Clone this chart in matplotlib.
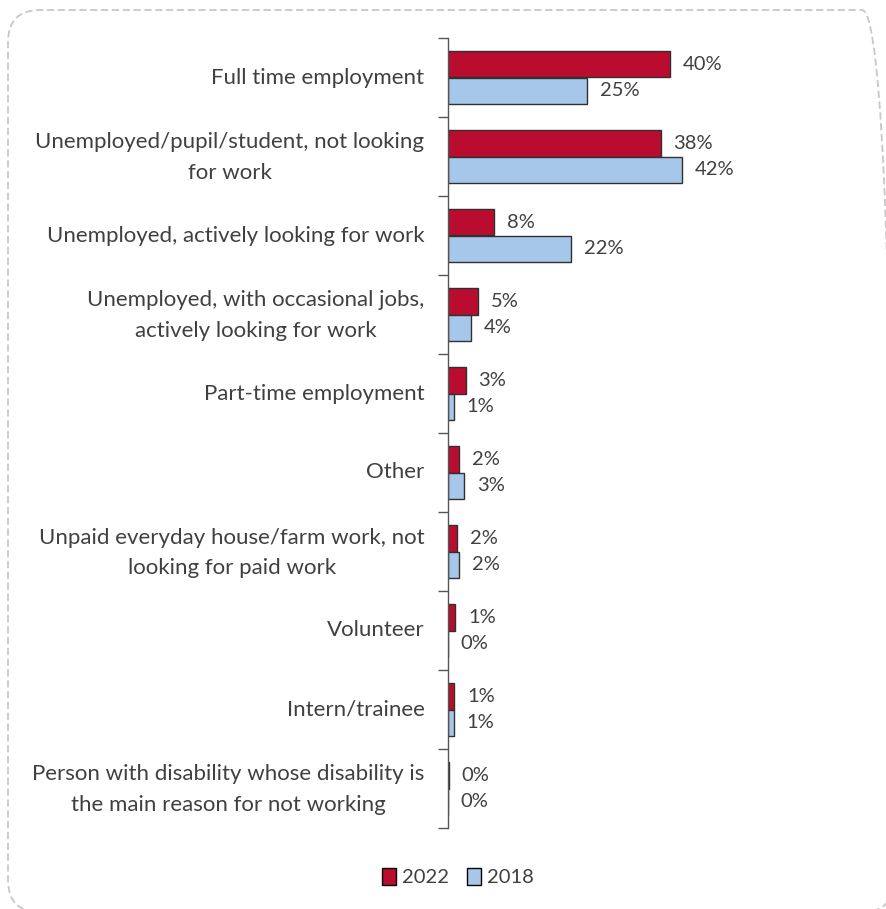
import matplotlib
matplotlib.use("Agg")
import matplotlib.pyplot as plt
from matplotlib.patches import FancyBboxPatch, Patch
from matplotlib.transforms import IdentityTransform, ScaledTranslation
import numpy as np

categories = [
    "Full time employment",
    "Unemployed/pupil/student, not looking\nfor work",
    "Unemployed, actively looking for work",
    "Unemployed, with occasional jobs,\nactively looking for work",
    "Part-time employment",
    "Other",
    "Unpaid everyday house/farm work, not\nlooking for paid work",
    "Volunteer",
    "Intern/trainee",
    "Person with disability whose disability is\nthe main reason for not working",
]
values_2022 = [40.0, 38.3, 8.3, 5.4, 3.2, 2.0, 1.7, 1.3, 1.1, 0.1]
values_2018 = [25.0, 42.1, 22.2, 4.1, 1.0, 2.9, 2.0, 0.0, 1.0, 0.0]
series_names = ["2022", "2018"]

red = "#BA0C2F"
blue = "#A7C7EA"
text_col = "#404040"
edge_col = "#303030"

plt.rcParams["font.family"] = ["Lato", "DejaVu Sans"]

W, H = 886, 909
fig = plt.figure(figsize=(W / 100, H / 100), dpi=100)

# rounded dashed frame, placed in device pixels (origin bottom-left)
frame = FancyBboxPatch((8, H - 912), 886, 902,
                       boxstyle="round,pad=0,rounding_size=32",
                       transform=IdentityTransform(),
                       fill=False, edgecolor="#c8c8c8", linewidth=1.3,
                       linestyle=(0, (4, 2)), clip_on=False)
fig.patches.append(frame)

left, right_px = 448, 809
top, bottom = 38, 828
ax = fig.add_axes([left / W, 1 - bottom / H, (right_px - left) / W, (bottom - top) / H])

n = len(categories)
y = np.arange(n)
bh = 0.34
ax.barh(y - bh / 2, values_2022, height=bh, color=red, edgecolor=edge_col, linewidth=1.0, label=series_names[0])
ax.barh(y + bh / 2, values_2018, height=bh, color=blue, edgecolor=edge_col, linewidth=1.0, label=series_names[1])

for yi, v in zip(y, values_2022):
    ax.text(v + 2.3, yi - bh / 2, f"{v:.0f}%", va="center", ha="left",
            fontsize=14.5, color=text_col)
for yi, v in zip(y, values_2018):
    ax.text(v + 2.3, yi + bh / 2, f"{v:.0f}%", va="center", ha="left",
            fontsize=14.5, color=text_col)

ax.set_xlim(0, 65)
ax.set_ylim(n - 0.5, -0.5)
ax.set_yticks(y)
ax.set_yticklabels(categories, fontsize=16, color=text_col, multialignment="center",
                   linespacing=1.65)
ax.tick_params(axis="y", which="major", length=0, pad=17)
ax.set_yticks(np.arange(-0.5, n, 1.0), minor=True)
ax.tick_params(axis="y", which="minor", length=7, width=1.0, color="#555555", direction="out")
ax.set_xticks([])
for s in ["top", "right", "bottom"]:
    ax.spines[s].set_visible(False)
ax.spines["left"].set_color("#555555")
ax.spines["left"].set_linewidth(1.0)

# nudge category labels up slightly (two-line labels a bit more)
for lab in ax.get_yticklabels():
    dy = 6 if "\n" in lab.get_text() else 2
    lab.set_transform(lab.get_transform() + ScaledTranslation(0, dy / 100, fig.dpi_scale_trans))

handles = [Patch(facecolor=red, edgecolor="black", linewidth=1.0),
           Patch(facecolor=blue, edgecolor="black", linewidth=1.0)]
fig.legend(handles, series_names, loc="center", bbox_to_anchor=(458 / W, 1 - 877 / H),
           ncol=2, frameon=False, fontsize=14.5, handlelength=0.7, handleheight=0.9,
           handletextpad=0.3, columnspacing=0.9, labelcolor=text_col)

fig.savefig("out.png", dpi=100)
